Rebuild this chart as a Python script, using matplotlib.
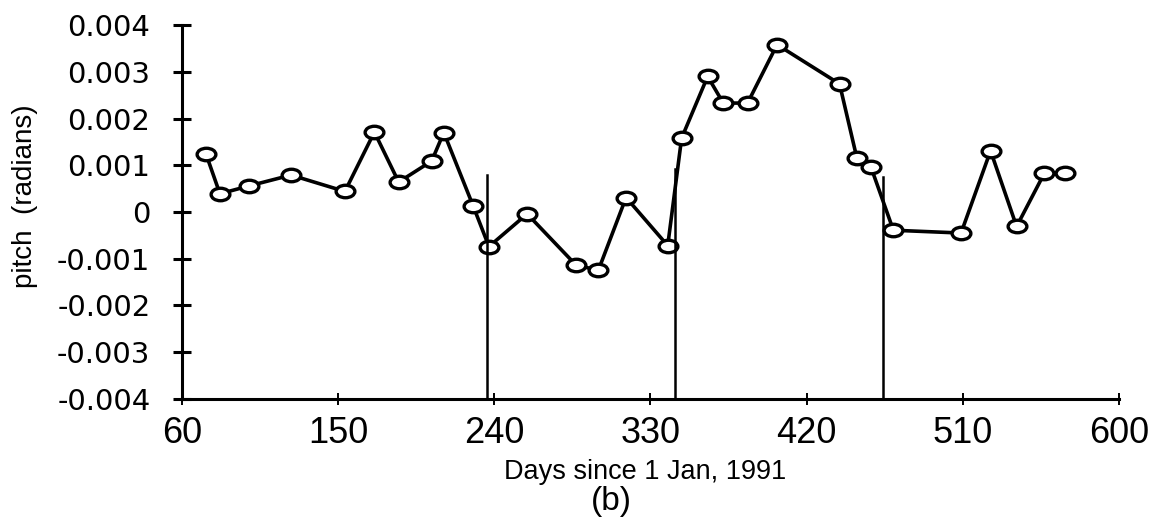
"""Pitch vs. day-of-mission, panel (b).

Re-draw of a scanned figure: pitch angle (radians) sampled on irregular
days since 1 Jan 1991, with three vertical event markers.

Run: python3 plot.py  ->  out.png
"""

import matplotlib
matplotlib.use("Agg")
import matplotlib.pyplot as plt
from matplotlib.path import Path
from matplotlib.transforms import Affine2D

OUT_PATH = "out.png"

# sample days (days since 1 Jan 1991) and pitch (radians)
days = [74, 82, 99, 123, 154, 171, 185, 204, 211, 228, 237, 259,
        287, 300, 316, 340, 348, 363, 372, 386, 403, 439, 449, 457,
        470, 509, 526, 541, 557, 569]
pitch = [0.00124, 0.00039, 0.00056, 0.00079, 0.00044, 0.00171, 0.00064,
         0.00109, 0.00170, 0.00012, -0.00074, -0.00004,
         -0.00113, -0.00125, 0.00031, -0.00072, 0.00158, 0.00290,
         0.00233, 0.00233, 0.00358, 0.00274, 0.00115, 0.00097,
         -0.00039, -0.00045, 0.00131, -0.00031, 0.00083, 0.00083]

# vertical event lines: day and how high they reach
event_days = [236, 344, 464]
event_tops = [0.00080, 0.00092, 0.00075]

x_ticks = [60, 150, 240, 330, 420, 510, 600]
y_ticks = [0.004, 0.003, 0.002, 0.001, 0.0, -0.001, -0.002, -0.003, -0.004]
y_tick_labels = ["0.004", "0.003", "0.002", "0.001", "0", "-0.001",
                 "-0.002", "-0.003", "-0.004"]

FONT = ["Liberation Sans", "DejaVu Sans"]


def ellipse_marker(aspect=1.5):
    circ = Path.unit_circle()
    return circ.transformed(Affine2D().scale(aspect, 1.0))


def main():
    fig = plt.figure(figsize=(11.56, 5.21), dpi=100)
    ax = fig.add_axes([0.1572, 0.2342, 0.8108, 0.7178])

    ax.plot(days, pitch, color="black", lw=2.6, zorder=2,
            marker=ellipse_marker(), markersize=13.5, markeredgewidth=2.4,
            markerfacecolor="white", markeredgecolor="black",
            clip_on=False)
    for d, top in zip(event_days, event_tops):
        ax.plot([d, d], [-0.004, top], color="black", lw=1.8, zorder=3)

    ax.set_xlim(60, 600)
    ax.set_ylim(-0.004, 0.004)
    for side in ("top", "right"):
        ax.spines[side].set_visible(False)
    for side in ("left", "bottom"):
        ax.spines[side].set_linewidth(2.2)

    ax.set_xticks(x_ticks)
    ax.set_xticklabels([str(t) for t in x_ticks], family=FONT, fontsize=26)
    ax.set_yticks(y_ticks)
    ax.set_yticklabels(y_tick_labels, family=["DejaVu Sans"], fontsize=21)
    ax.tick_params(axis="y", direction="inout", length=13, width=2.2,
                   pad=16)
    ax.tick_params(axis="x", direction="inout", length=8, width=1.4,
                   pad=8)

    fig.text(0.558, 0.094, "Days since 1 Jan, 1991", family=FONT,
             fontsize=19.5, ha="center", va="center")
    fig.text(0.529, 0.038, "(b)", family=FONT, fontsize=24,
             ha="center", va="center")
    fig.text(0.0216, 0.624, "pitch  (radians)", family=FONT, fontsize=20,
             rotation=90, ha="center", va="center")

    fig.savefig(OUT_PATH, dpi=100)
    plt.close(fig)


if __name__ == "__main__":
    main()
